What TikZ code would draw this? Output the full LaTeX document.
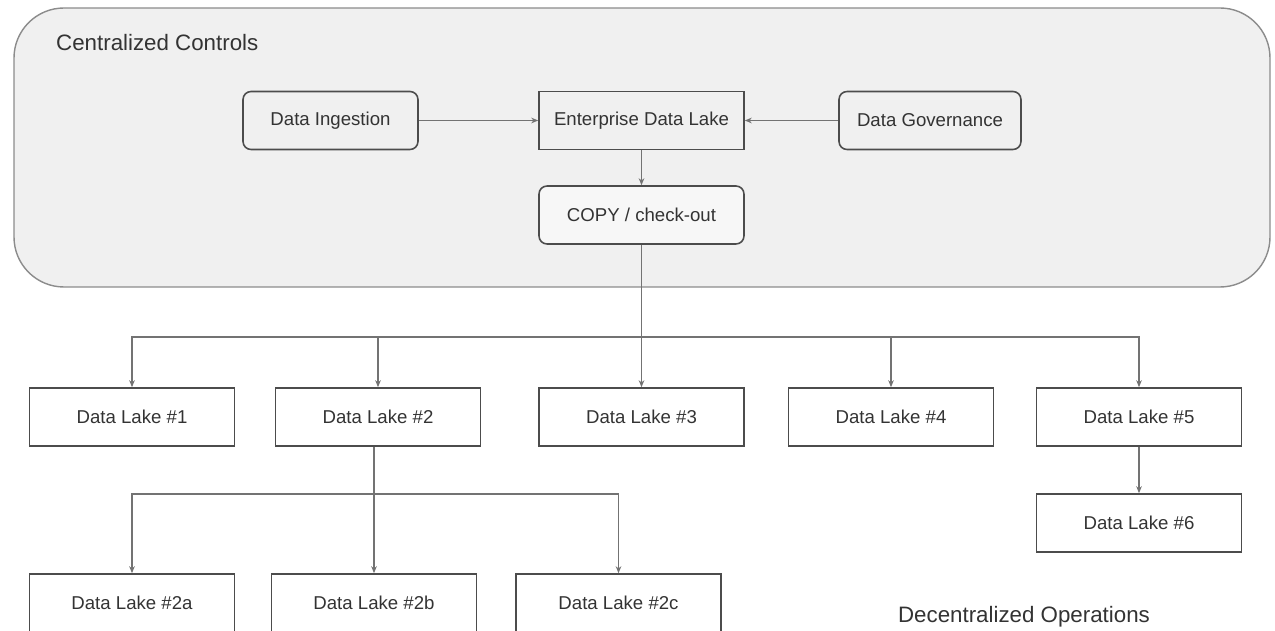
\documentclass[tikz,border=0pt]{standalone}
\usepackage{fontspec}
\setmainfont{Liberation Sans}
\usetikzlibrary{arrows.meta}

\begin{document}
\begin{tikzpicture}[x=0.02cm,y=-0.02cm,
    lake/.style={draw=black!70,line width=0.9pt,minimum width=4.1cm,minimum height=1.16cm,
      text=black!80,font=\fontsize{10.6}{12}\selectfont},
    soft/.style={lake,rounded corners=0.16cm},
    arr/.style={draw=black!55,line width=0.6pt,-{Stealth[length=4pt,width=3.2pt]}},
    lbl/.style={text=black!80,font=\fontsize{12.7}{15}\selectfont}]
    \clip (0,0) rectangle (1275,631);
    \draw[draw=black!45,fill=black!6,line width=0.8pt,rounded corners=1cm] (14,8) rectangle (1270,287);
    \node[lbl,anchor=west] (central) at (50,43) {Centralized Controls};
    \node[soft,minimum width=3.5cm] (ing) at (330.5,120.5) {Data Ingestion};
    \node[lake] (edl) at (641.5,120.5) {Enterprise Data Lake};
    \node[soft,minimum width=3.64cm] (gov) at (930,120.5) {Data Governance};
    \node[soft,fill=black!3] (copy) at (641.5,215) {COPY / check-out};
    \node[lake] (dl1) at (132,417) {Data Lake \#1};
    \node[lake] (dl2) at (378,417) {Data Lake \#2};
    \node[lake] (dl3) at (641.5,417) {Data Lake \#3};
    \node[lake] (dl4) at (891,417) {Data Lake \#4};
    \node[lake] (dl5) at (1139,417) {Data Lake \#5};
    \node[lake] (dl6) at (1139,523) {Data Lake \#6};
    \node[lake] (dl2a) at (132,603) {Data Lake \#2a};
    \node[lake] (dl2b) at (374,603) {Data Lake \#2b};
    \node[lake] (dl2c) at (618.5,603) {Data Lake \#2c};
    \node[lbl] (decentral) at (1024,617) {Decentralized Operations};
    \coordinate (bus) at (641.5,337);
    \coordinate (bus2) at (374,494);
    \draw[arr] (ing) -- (edl);
    \draw[arr] (gov) -- (edl);
    \draw[arr] (edl) -- (copy);
    \draw[arr] (copy.south) -- (dl3.north);
    \foreach \n in {dl1,dl2,dl4,dl5}
      \draw[arr] (bus) -| (\n.north);
    \draw[arr] (dl2.south -| dl2b.north) -- (dl2b.north);
    \foreach \n in {dl2a,dl2c}
      \draw[arr] (bus2) -| (\n.north);
    \draw[arr] (dl5) -- (dl6);
\end{tikzpicture}
\end{document}
